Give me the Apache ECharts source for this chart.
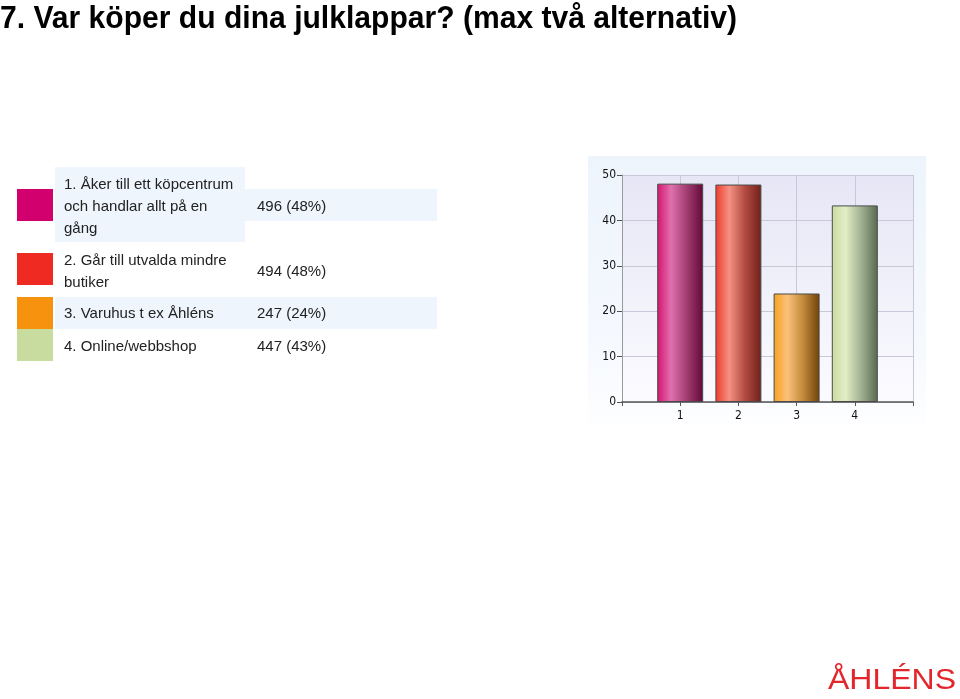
<!DOCTYPE html>
<html>
<head>
<meta charset="utf-8">
<script src="https://cdn.jsdelivr.net/npm/echarts@6/dist/echarts.min.js"></script>
<style>
html,body{margin:0;padding:0;background:#fff;}
#c{width:960px;height:699px;}
</style>
</head>
<body>
<div id="c"></div>
<script>
// ---- data ----
var title = '7. Var köper du dina julklappar? (max två alternativ)';
var categories = ['1', '2', '3', '4'];
var optionLabels = [
  ['1. Åker till ett köpcentrum', 'och handlar allt på en', 'gång'],
  ['2. Går till utvalda mindre', 'butiker'],
  ['3. Varuhus t ex Åhléns'],
  ['4. Online/webbshop']
];
var counts = [496, 494, 247, 447];
var percents = [48, 48, 24, 43];
var barValues = [48.1, 47.9, 23.9, 43.3];
var yTicks = [0, 10, 20, 30, 40, 50];
var logoText = 'ÅHLÉNS';

// ---- styles ----
var swatchColors = ['#d1006e', '#ee2a22', '#f7920f', '#c9dc9f'];
var barGrad = [
  ['#d41470', '#e070ae', '#a03c70', '#640838'],
  ['#f03a2a', '#f49084', '#b04a40', '#70201a'],
  ['#f7a020', '#fcc27a', '#c0883a', '#704208'],
  ['#c8dca0', '#e2eec6', '#a0ae90', '#566a4e']
];

function measure(text, font) {
  var cv = document.createElement('canvas').getContext('2d');
  cv.font = font;
  return cv.measureText(text).width;
}

var chart = echarts.init(document.getElementById('c'));

var graphics = [];
// title (condensed by horizontal scaling)
var titleFont = 'bold 32px "Liberation Sans", Arial, sans-serif';
var titleScale = 737 / measure(title, titleFont);
graphics.push({type:'text', x:0, y:3, scaleX:titleScale, style:{text:title, font:titleFont, fill:'#000'}});
// chart panel bg
graphics.push({type:'rect', shape:{x:588, y:156, width:338, height:280}, z:-10,
  style:{fill:new echarts.graphic.LinearGradient(0,0,0,1,[{offset:0,color:'#edf4fc'},{offset:0.7,color:'#f6f9fe'},{offset:1,color:'#ffffff'}])}});

// legend table
var rowLayout = [
  {swY:189, bg:[[55,167,190,75],[245,189,192,32]], lineY:[185,207,229], valY:207},
  {swY:253, bg:[], lineY:[261,283], valY:272},
  {swY:297, bg:[[55,297,382,32]], lineY:[314], valY:314},
  {swY:329, bg:[], lineY:[347], valY:347}
];
var fontT = '15px "Liberation Sans", Arial, sans-serif';
for (var i = 0; i < optionLabels.length; i++) {
  var r = rowLayout[i];
  r.bg.forEach(function(b){
    graphics.push({type:'rect', shape:{x:b[0], y:b[1], width:b[2], height:b[3]}, style:{fill:'#eef5fd'}, z:-5});
  });
  graphics.push({type:'rect', shape:{x:17, y:r.swY, width:36, height:32}, style:{fill:swatchColors[i]}});
  optionLabels[i].forEach(function(line, k){
    graphics.push({type:'text', x:64, y:r.lineY[k], style:{text:line, font:fontT, fill:'#222', verticalAlign:'middle'}});
  });
  graphics.push({type:'text', x:257, y:r.valY, style:{text:counts[i] + ' (' + percents[i] + '%)', font:fontT, fill:'#222', verticalAlign:'middle'}});
}
// logo
var logoFont = '500 30px "Liberation Sans", Arial, sans-serif';
var logoScale = 128 / measure(logoText, logoFont);
graphics.push({type:'text', x:828, y:696, scaleX:logoScale, style:{text:logoText, font:logoFont, fill:'#e3262b', textAlign:'left', textVerticalAlign:'bottom', verticalAlign:'bottom'}});

var barData = barValues.map(function(v, i){
  var g = barGrad[i];
  return {value:[i+1, v], itemStyle:{
    color:new echarts.graphic.LinearGradient(0,0,1,0,[
      {offset:0,color:g[0]},{offset:0.3,color:g[1]},{offset:0.65,color:g[2]},{offset:1,color:g[3]}]),
    borderColor:'#4a4a4a', borderWidth:1}};
});

var axisFont = '"DejaVu Sans Condensed", "Liberation Sans Narrow", sans-serif';
chart.setOption({
  animation:false,
  graphic:graphics,
  grid:{left:622, top:175, width:291, height:227, show:true, borderWidth:0,
    backgroundColor:new echarts.graphic.LinearGradient(0,0,0,1,[{offset:0,color:'#e6e6f6'},{offset:1,color:'#fbfbff'}])},
  xAxis:{type:'value', min:0, max:5, interval:1,
    axisLine:{show:true, lineStyle:{color:'#555', width:1.5}},
    axisTick:{show:true, length:4, lineStyle:{color:'#555'}},
    splitLine:{show:true, lineStyle:{color:'#c8c8d8'}},
    axisLabel:{margin:8, color:'#111', fontFamily:axisFont, fontSize:12,
      formatter:function(v){ var idx = categories.indexOf(String(v)); return idx >= 0 ? categories[idx] : ''; }}
  },
  yAxis:{type:'value', min:0, max:50, interval:10,
    axisLine:{show:true, lineStyle:{color:'#9a9a9a'}},
    axisTick:{show:true, length:5, lineStyle:{color:'#555'}},
    splitLine:{show:true, lineStyle:{color:'#c8c8d8'}},
    axisLabel:{margin:6, color:'#111', fontFamily:axisFont, fontSize:12,
      formatter:function(v){ return yTicks.indexOf(v) >= 0 ? String(v) : ''; }}
  },
  series:[{type:'bar', data:barData, barWidth:46}]
});
</script>
</body>
</html>
